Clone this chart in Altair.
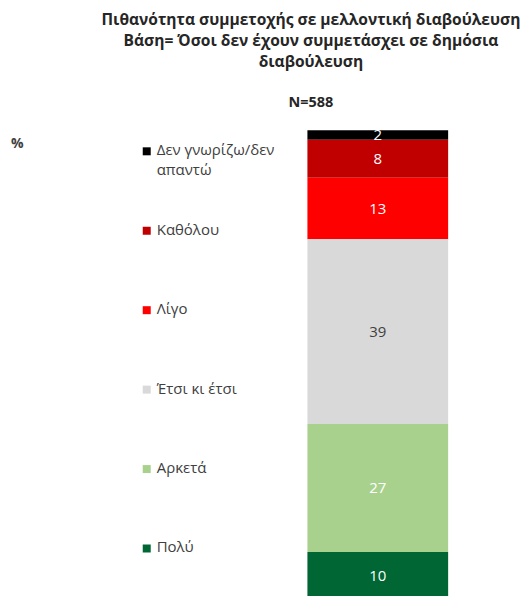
import altair as alt
import pandas as pd

categories = ["Δεν γνωρίζω/δεν απαντώ", "Καθόλου", "Λίγο", "Έτσι κι έτσι", "Αρκετά", "Πολύ"]
legend_labels = ["Δεν γνωρίζω/δεν\nαπαντώ", "Καθόλου", "Λίγο", "Έτσι κι έτσι", "Αρκετά", "Πολύ"]
values = [2, 8, 13, 39, 27, 10]
colors = ["#000000", "#C00000", "#FF0000", "#D9D9D9", "#A9D18E", "#006633"]
label_colors = ["#FFFFFF", "#FFFFFF", "#FFFFFF", "#404040", "#FFFFFF", "#FFFFFF"]
stack_order = [5, 4, 3, 2, 1, 0]   # 0 = bottom of the bar
legend_pos = [0, 1, 2, 3, 4, 5]    # 0 = top of legend

FONT = "Open Sans"

df = pd.DataFrame({
    "cat": categories,
    "legend": legend_labels,
    "value": values,
    "color": colors,
    "tcolor": label_colors,
    "order": stack_order,
    "pos": legend_pos,
    "q": ["Q"] * len(categories),
})

H = 470

# ---- legend panel ----
leg_base = alt.Chart(df).encode(
    y=alt.Y("pos:Q", scale=alt.Scale(domain=[-0.264, 5.641], reverse=True, nice=False, zero=False), axis=None)
)
leg_sq = leg_base.mark_square(size=64, opacity=1).encode(
    x=alt.value(139),
    color=alt.Color("color:N", scale=None),
)
leg_tx = leg_base.mark_text(align="left", baseline="alphabetic", dy=4, font=FONT, fontSize=15,
                            color="#404040", lineBreak="\n", lineHeight=20).encode(
    x=alt.value(149),
    text="legend:N",
)
pct = alt.Chart(pd.DataFrame({"t": ["%"]})).mark_text(
    align="left", baseline="middle", font=FONT, fontSize=14, fontWeight="bold", color="#404040"
).encode(x=alt.value(3), y=alt.value(14), text="t:N")

legend_panel = alt.layer(leg_sq, leg_tx, pct).properties(width=300, height=H)

# ---- bar panel ----
bar_base = alt.Chart(df).transform_stack(
    stack="value", groupby=["q"], as_=["y0", "y1"], sort=[alt.SortField("order", order="ascending")]
).transform_calculate(mid="(datum.y0 + datum.y1) / 2")

yscale = alt.Scale(domain=[0, 99], nice=False, zero=True)
xenc = alt.X("q:N", scale=alt.Scale(paddingInner=0, paddingOuter=0), axis=None)

bars = bar_base.mark_bar(size=141).encode(
    x=xenc,
    y=alt.Y("y0:Q", scale=yscale, axis=None),
    y2="y1:Q",
    color=alt.Color("color:N", scale=None),
)
labels = bar_base.mark_text(font=FONT, fontSize=15, baseline="middle").encode(
    x=xenc,
    y=alt.Y("mid:Q", scale=yscale, axis=None),
    text="value:Q",
    color=alt.Color("tcolor:N", scale=None),
)
bar_panel = alt.layer(bars, labels).properties(width=141, height=H)

chart = alt.hconcat(legend_panel, bar_panel, spacing=0).properties(
    padding={"top": 4, "left": 0, "right": 0, "bottom": 0},
    title=alt.TitleParams(
        text=["Πιθανότητα συμμετοχής σε μελλοντική διαβούλευση",
              "Βάση= Όσοι δεν έχουν συμμετάσχει σε δημόσια",
              "διαβούλευση"],
        subtitle="N=588",
        anchor="middle",
        dx=83,
        font=FONT, fontSize=15.6, fontWeight="bold", color="#262626", lineHeight=21,
        subtitleFont=FONT, subtitleFontSize=14.5, subtitleFontWeight="bold", subtitleColor="#262626",
        subtitlePadding=25, offset=19,
    ),
).configure(background="white", view=alt.ViewConfig(stroke=None))

chart.save("out.html", embed_options={"renderer": "svg", "actions": False})
